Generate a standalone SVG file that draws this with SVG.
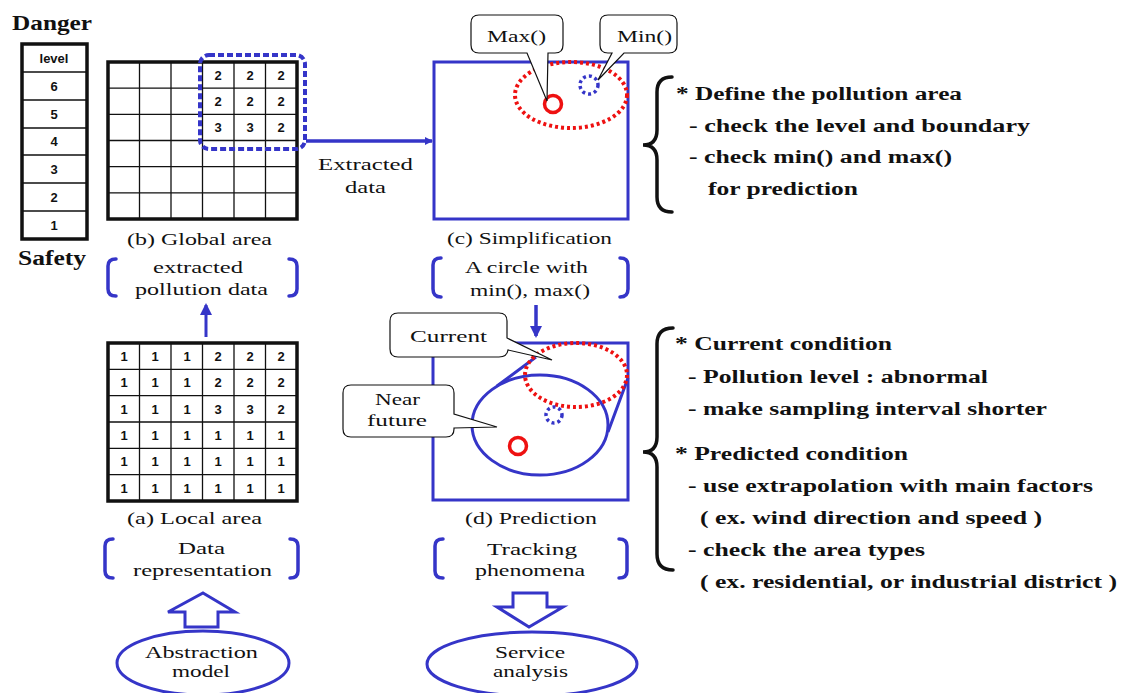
<svg xmlns="http://www.w3.org/2000/svg" width="1125" height="693" viewBox="0 0 1125 693">
<style>
.serif{font-family:"Liberation Serif","Times New Roman",serif;fill:#111}
.b{font-weight:bold}
.cap{font-size:17px}
.rt{font-size:18px;font-weight:bold}
.num{font-family:"Liberation Sans",Arial,sans-serif;font-weight:bold;font-size:13px;text-anchor:middle;fill:#111}
.grid{fill:none;stroke:#111;stroke-width:1.3}
.frame{fill:none;stroke:#111;stroke-width:3.5}
.blue{fill:none;stroke:#3535c8;stroke-width:3}
.brk{fill:none;stroke:#3535c8;stroke-width:3.5;stroke-linecap:round}
.reddot{fill:none;stroke:#ee1111;stroke-width:4;stroke-dasharray:3 3}
.bluedot{fill:none;stroke:#3535c8;stroke-width:3.5;stroke-dasharray:3 3}
.call{fill:#fff;stroke:#111;stroke-width:1.2}
.brace{fill:none;stroke:#111;stroke-width:3.5;stroke-linecap:round}
</style>
<defs>
<marker id="ah" markerWidth="8" markerHeight="8" refX="7" refY="4" orient="auto" markerUnits="userSpaceOnUse" viewBox="0 0 8 8">
<path d="M0,0 L8,4 L0,8 Z" fill="#3535c8"/>
</marker>
<marker id="ah2" markerWidth="12" markerHeight="12" refX="10" refY="6" orient="auto" markerUnits="userSpaceOnUse" viewBox="0 0 12 12">
<path d="M0,0 L12,6 L0,12 Z" fill="#3535c8"/>
</marker>
</defs>

<g id="level-scale">
<text class="serif b" x="12" y="30" font-size="21" textLength="80" lengthAdjust="spacingAndGlyphs">Danger</text>
<rect class="frame" x="22" y="44" width="65" height="195"/>
<path class="grid" d="M22,72H87M22,100H87M22,128H87M22,155H87M22,183H87M22,211H87"/>
<text class="num" x="54" y="63" font-size="12">level</text>
<text class="num" x="54" y="91">6</text>
<text class="num" x="54" y="119">5</text>
<text class="num" x="54" y="146">4</text>
<text class="num" x="54" y="174">3</text>
<text class="num" x="54" y="202">2</text>
<text class="num" x="54" y="230">1</text>
<text class="serif b" x="18" y="265" font-size="20" textLength="68" lengthAdjust="spacingAndGlyphs">Safety</text>
</g>

<g id="global-area">
<rect class="frame" x="108" y="62" width="189" height="157"/>
<path class="grid" d="M139.5,62V219M171,62V219M202.5,62V219M234,62V219M265.5,62V219M108,88.2H297M108,114.3H297M108,140.5H297M108,166.7H297M108,192.8H297"/>
<text class="num" x="218" y="80">2</text><text class="num" x="250" y="80">2</text><text class="num" x="281" y="80">2</text>
<text class="num" x="218" y="106">2</text><text class="num" x="250" y="106">2</text><text class="num" x="281" y="106">2</text>
<text class="num" x="218" y="132">3</text><text class="num" x="250" y="132">3</text><text class="num" x="281" y="132">2</text>
<rect x="200" y="55" width="105" height="94" rx="9" fill="none" stroke="#3535c8" stroke-width="4" stroke-dasharray="6 3"/>
<text class="serif cap" x="127" y="245" textLength="145" lengthAdjust="spacingAndGlyphs">(b) Global area</text>
</g>

<g id="extracted-bracket">
<path class="brk" d="M116,259Q108,259 108,266V289Q108,296 116,296"/>
<path class="brk" d="M289,259Q297,259 297,266V289Q297,296 289,296"/>
<text class="serif cap" x="153" y="273" textLength="90" lengthAdjust="spacingAndGlyphs">extracted</text>
<text class="serif cap" x="135" y="295" textLength="133" lengthAdjust="spacingAndGlyphs">pollution data</text>
</g>

<g id="simplification">
<rect class="blue" x="434" y="62" width="194" height="157"/>
<ellipse class="reddot" cx="571" cy="95" rx="56" ry="33"/>
<circle cx="553" cy="104" r="8.5" fill="none" stroke="#ee1111" stroke-width="3.5"/>
<circle class="bluedot" cx="589" cy="85" r="9"/>
<path class="call" d="M479,15H555Q563,15 563,23V45Q563,53 555,53H548L547,101L527,53H479Q471,53 471,45V23Q471,15 479,15Z"/>
<text class="serif cap" x="487" y="42" textLength="59" lengthAdjust="spacingAndGlyphs">Max()</text>
<path class="call" d="M608,15H669Q677,15 677,23V45Q677,53 669,53H624L598,80L612,53H608Q600,53 600,45V23Q600,15 608,15Z"/>
<text class="serif cap" x="617" y="42" textLength="55" lengthAdjust="spacingAndGlyphs">Min()</text>
<text class="serif cap" x="447" y="244" textLength="165" lengthAdjust="spacingAndGlyphs">(c) Simplification</text>
</g>

<g id="circle-bracket">
<path class="brk" d="M441,258Q433,258 433,265V289Q433,297 441,297"/>
<path class="brk" d="M620,258Q628,258 628,265V289Q628,297 620,297"/>
<text class="serif cap" x="465" y="273" textLength="123" lengthAdjust="spacingAndGlyphs">A circle with</text>
<text class="serif cap" x="470" y="296" textLength="120" lengthAdjust="spacingAndGlyphs">min(), max()</text>
</g>

<g id="local-area">
<rect class="frame" x="108" y="343" width="189" height="158"/>
<path class="grid" d="M139.5,343V501M171,343V501M202.5,343V501M234,343V501M265.5,343V501M108,369.3H297M108,395.7H297M108,422H297M108,448.3H297M108,474.7H297"/>
<g>
<text class="num" x="124" y="361">1</text><text class="num" x="155" y="361">1</text><text class="num" x="187" y="361">1</text><text class="num" x="218" y="361">2</text><text class="num" x="250" y="361">2</text><text class="num" x="281" y="361">2</text>
<text class="num" x="124" y="387">1</text><text class="num" x="155" y="387">1</text><text class="num" x="187" y="387">1</text><text class="num" x="218" y="387">2</text><text class="num" x="250" y="387">2</text><text class="num" x="281" y="387">2</text>
<text class="num" x="124" y="414">1</text><text class="num" x="155" y="414">1</text><text class="num" x="187" y="414">1</text><text class="num" x="218" y="414">3</text><text class="num" x="250" y="414">3</text><text class="num" x="281" y="414">2</text>
<text class="num" x="124" y="440">1</text><text class="num" x="155" y="440">1</text><text class="num" x="187" y="440">1</text><text class="num" x="218" y="440">1</text><text class="num" x="250" y="440">1</text><text class="num" x="281" y="440">1</text>
<text class="num" x="124" y="466">1</text><text class="num" x="155" y="466">1</text><text class="num" x="187" y="466">1</text><text class="num" x="218" y="466">1</text><text class="num" x="250" y="466">1</text><text class="num" x="281" y="466">1</text>
<text class="num" x="124" y="493">1</text><text class="num" x="155" y="493">1</text><text class="num" x="187" y="493">1</text><text class="num" x="218" y="493">1</text><text class="num" x="250" y="493">1</text><text class="num" x="281" y="493">1</text>
</g>
<text class="serif cap" x="127" y="524" textLength="135" lengthAdjust="spacingAndGlyphs">(a) Local area</text>
</g>

<g id="prediction">
<rect class="blue" x="433" y="343" width="195" height="157"/>
<ellipse class="blue" cx="540" cy="425" rx="68" ry="50"/>
<path class="blue" d="M497,386L536,357M628,378L608,432"/>
<ellipse class="reddot" cx="576" cy="375" rx="51" ry="32"/>
<circle class="bluedot" cx="554" cy="415" r="8"/>
<circle cx="518" cy="446" r="8.5" fill="none" stroke="#ee1111" stroke-width="3.5"/>
<path class="call" d="M398,313H499Q507,313 507,321V338L552,360L508,350Q507,357 499,357H398Q390,357 390,349V321Q390,313 398,313Z"/>
<text class="serif cap" x="410" y="342" textLength="77" lengthAdjust="spacingAndGlyphs">Current</text>
<path class="call" d="M351,385H446Q454,385 454,393V414L497,427L454,428V429Q454,437 446,437H351Q343,437 343,429V393Q343,385 351,385Z"/>
<text class="serif cap" x="375" y="405" textLength="45" lengthAdjust="spacingAndGlyphs">Near</text>
<text class="serif cap" x="367" y="426" textLength="60" lengthAdjust="spacingAndGlyphs">future</text>
<text class="serif cap" x="465" y="524" textLength="132" lengthAdjust="spacingAndGlyphs">(d) Prediction</text>
</g>

<g id="data-representation">
<path class="brk" d="M113,539Q105,539 105,546V571Q105,578 113,578"/>
<path class="brk" d="M290,539Q298,539 298,546V571Q298,578 290,578"/>
<text class="serif cap" x="178" y="554" textLength="47" lengthAdjust="spacingAndGlyphs">Data</text>
<text class="serif cap" x="133" y="576" textLength="139" lengthAdjust="spacingAndGlyphs">representation</text>
</g>

<g id="tracking-phenomena">
<path class="brk" d="M443,539Q435,539 435,546V571Q435,578 443,578"/>
<path class="brk" d="M619,539Q627,539 627,546V571Q627,578 619,578"/>
<text class="serif cap" x="487" y="555" textLength="90" lengthAdjust="spacingAndGlyphs">Tracking</text>
<text class="serif cap" x="475" y="576" textLength="110" lengthAdjust="spacingAndGlyphs">phenomena</text>
</g>

<g id="abstraction-model">
<ellipse class="blue" cx="203" cy="663" rx="86" ry="32"/>
<text class="serif cap" x="145" y="658" textLength="113" lengthAdjust="spacingAndGlyphs">Abstraction</text>
<text class="serif cap" x="172" y="677" textLength="58" lengthAdjust="spacingAndGlyphs">model</text>
</g>

<g id="service-analysis">
<ellipse class="blue" cx="532" cy="664" rx="105" ry="32"/>
<text class="serif cap" x="495" y="658" textLength="70" lengthAdjust="spacingAndGlyphs">Service</text>
<text class="serif cap" x="493" y="677" textLength="75" lengthAdjust="spacingAndGlyphs">analysis</text>
</g>

<g id="define-notes">
<path class="brace" d="M672,77Q657,77 657,92V130Q657,145 643,145Q657,145 657,160V197Q657,212 672,212"/>
<text class="serif rt" x="676" y="100" textLength="286" lengthAdjust="spacingAndGlyphs">* Define the pollution area</text>
<text class="serif rt" x="689" y="132" textLength="341" lengthAdjust="spacingAndGlyphs">- check the level and boundary</text>
<text class="serif rt" x="689" y="163" textLength="263" lengthAdjust="spacingAndGlyphs">- check min() and max()</text>
<text class="serif rt" x="708" y="195" textLength="150" lengthAdjust="spacingAndGlyphs">for prediction</text>
</g>

<g id="condition-notes">
<path class="brace" d="M673,328Q657,328 657,344V437Q657,452 643,452Q657,452 657,467V554Q657,570 673,570"/>
<text class="serif rt" x="675" y="350" textLength="217" lengthAdjust="spacingAndGlyphs">* Current condition</text>
<text class="serif rt" x="688" y="383" textLength="300" lengthAdjust="spacingAndGlyphs">- Pollution level : abnormal</text>
<text class="serif rt" x="688" y="415" textLength="359" lengthAdjust="spacingAndGlyphs">- make sampling interval shorter</text>
<text class="serif rt" x="675" y="460" textLength="233" lengthAdjust="spacingAndGlyphs">* Predicted condition</text>
<text class="serif rt" x="688" y="492" textLength="405" lengthAdjust="spacingAndGlyphs">- use extrapolation with main factors</text>
<text class="serif rt" x="700" y="524" textLength="342" lengthAdjust="spacingAndGlyphs">( ex. wind direction and speed )</text>
<text class="serif rt" x="688" y="556" textLength="237" lengthAdjust="spacingAndGlyphs">- check the area types</text>
<text class="serif rt" x="700" y="588" textLength="417" lengthAdjust="spacingAndGlyphs">( ex. residential, or industrial district )</text>
</g>

<g id="connectors">
<line x1="306" y1="141" x2="432" y2="141" stroke="#3535c8" stroke-width="3.5" marker-end="url(#ah)"/>
<text class="serif cap" x="318" y="170" textLength="95" lengthAdjust="spacingAndGlyphs">Extracted</text>
<text class="serif cap" x="345" y="193" textLength="41" lengthAdjust="spacingAndGlyphs">data</text>
<line x1="206" y1="337" x2="206" y2="305" stroke="#3535c8" stroke-width="3" marker-end="url(#ah2)"/>
<line x1="536" y1="305" x2="536" y2="336" stroke="#3535c8" stroke-width="3.5" marker-end="url(#ah2)"/>
<path class="blue" d="M203,593L235,612H218V627H185V612H168Z" fill="#fff"/>
<path class="blue" d="M513,593H547V607H563L529,627L497,607H513Z" fill="#fff"/>
</g>
</svg>
